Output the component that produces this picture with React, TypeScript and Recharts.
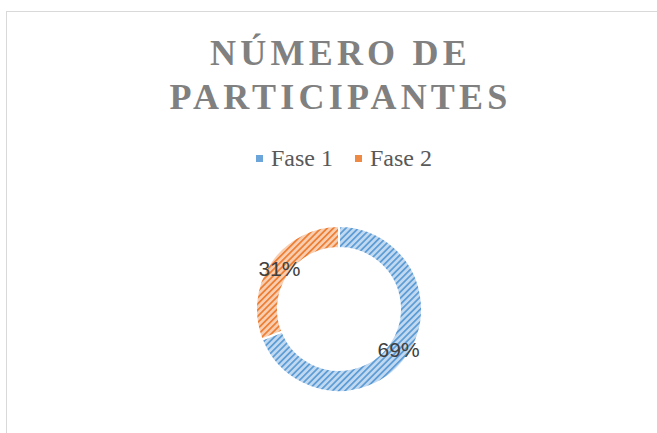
import React from "react";
import { PieChart, Pie, Cell, Legend } from "recharts";

const categories = ["Fase 1", "Fase 2"];
const values = [69, 31];
const percentLabels = ["69%", "31%"];
const titleLines = ["NÚMERO DE", "PARTICIPANTES"];

const stripeColors = ["#5b9bd5", "#ed7d31"];
const bgColors = ["#c0d8f0", "#f8cdb0"];
const patternIds = ["patBlue", "patOrange"];

const data = categories.map((name, i) => ({ name, value: values[i], label: percentLabels[i] }));

const RADIAN = Math.PI / 180;

const renderLabel = (props: any) => {
  const { cx, cy, midAngle, innerRadius, outerRadius, index } = props;
  const r = (innerRadius + outerRadius) / 2;
  const x = cx + r * Math.cos(-midAngle * RADIAN);
  const y = cy + r * Math.sin(-midAngle * RADIAN);
  return (
    <text
      x={x}
      y={y}
      textAnchor="middle"
      dominantBaseline="central"
      fill="#404040"
      style={{ fontFamily: "'Liberation Sans', Arial, sans-serif", fontSize: 21 }}
    >
      {data[index].label}
    </text>
  );
};

const renderLegend = () => (
  <div
    style={{
      display: "flex",
      justifyContent: "center",
      alignItems: "center",
      paddingLeft: 24,
      fontFamily: "'Liberation Serif', 'Times New Roman', serif",
      fontSize: 24,
      lineHeight: "28px",
      color: "#595959",
    }}
  >
    {categories.map((c, i) => (
      <div key={c} style={{ display: "flex", alignItems: "center", marginRight: i === 0 ? 22 : 0 }}>
        <span
          style={{
            display: "inline-block",
            width: 7,
            height: 7,
            background: stripeColors[i],
            opacity: 0.9,
            marginRight: 8,
          }}
        />
        <span>{c}</span>
      </div>
    ))}
  </div>
);

export default function App() {
  return (
    <div
      style={{
        position: "absolute",
        left: 6,
        top: 11,
        width: 650,
        height: 421,
        borderTop: "1px solid #d9d9d9",
        borderLeft: "1px solid #d9d9d9",
        background: "#fff",
        overflow: "hidden",
      }}
    >
      <div
        style={{
          position: "absolute",
          left: 0,
          top: 19,
          width: 650,
          boxSizing: "border-box",
          paddingLeft: 17,
          textAlign: "center",
          fontFamily: "'Liberation Serif', 'Times New Roman', serif",
          fontWeight: "bold",
          fontSize: 36,
          lineHeight: "44px",
          letterSpacing: 4.2,
          color: "#808080",
          zIndex: 2,
        }}
      >
        {titleLines.map((l) => (
          <div key={l}>{l}</div>
        ))}
      </div>
      <PieChart width={650} height={421} margin={{ top: 0, right: 0, bottom: 0, left: 0 }}>
        <defs>
          {patternIds.map((id, i) => (
            <pattern
              key={id}
              id={id}
              patternUnits="userSpaceOnUse"
              width={4.4}
              height={4.4}
              patternTransform="rotate(45)"
            >
              <rect x={0} y={0} width={4.4} height={4.4} fill={bgColors[i]} />
              <rect x={0} y={0} width={1.7} height={4.4} fill={stripeColors[i]} />
            </pattern>
          ))}
        </defs>
        <Legend
          verticalAlign="bottom"
          content={renderLegend}
          wrapperStyle={{ position: "absolute", top: 132, left: 0, width: 650, bottom: "auto" }}
        />
        <Pie
          data={data}
          dataKey="value"
          nameKey="name"
          cx={332}
          cy={297}
          innerRadius={61}
          outerRadius={83}
          startAngle={90}
          endAngle={-270}
          stroke="#ffffff"
          strokeWidth={2}
          label={renderLabel}
          labelLine={false}
          isAnimationActive={false}
        >
          {data.map((d, i) => (
            <Cell key={d.name} fill={`url(#${patternIds[i]})`} />
          ))}
        </Pie>
      </PieChart>
    </div>
  );
}
